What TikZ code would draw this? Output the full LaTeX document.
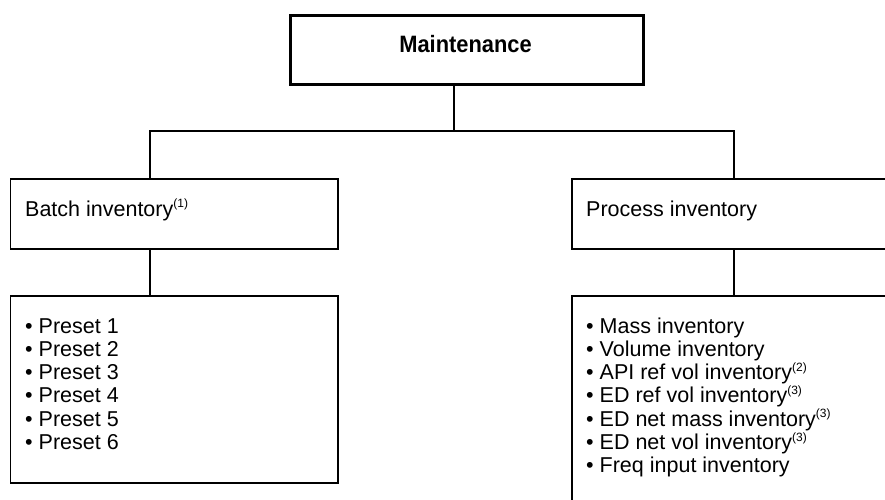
\documentclass[tikz,border=0pt]{standalone}
\usepackage{fontspec}
\setmainfont{Liberation Sans}
\newcommand\supnote[1]{\raisebox{8.5pt}{\fontsize{12}{12}\selectfont #1}}
\begin{document}
\begin{tikzpicture}[x=1pt,y=-1pt,
  boxthin/.style={draw, line width=1.6pt, inner sep=0pt, anchor=north west},
  boxthick/.style={draw, line width=3pt, inner sep=0pt, anchor=north west},
  conn/.style={line width=1.6pt},
  txt/.style={inner sep=0pt, anchor=base west, font=\fontsize{21.5}{23.3}\selectfont},
  titletxt/.style={inner sep=0pt, anchor=base, font=\bfseries\fontsize{23}{25}\selectfont}]
\useasboundingbox (0,0) rectangle (885,499);
\clip (0,0) rectangle (885,499);
% boxes
\node[boxthick, minimum width=353pt, minimum height=69pt] (main) at (289,14) {};
\node[boxthin, minimum width=327.5pt, minimum height=70pt] (batch) at (9.5,178) {};
\node[boxthin, minimum width=327.5pt, minimum height=187pt] (presets) at (9.5,295) {};
\node[boxthin, minimum width=340pt, minimum height=70pt] (proc) at (571,178) {};
\node[boxthin, minimum width=340pt, minimum height=240pt] (plist) at (571,295) {};
% connector coordinates
\coordinate (junc) at (454,131);
\coordinate (cl) at (150,131);
\coordinate (cr) at (734,131);
\draw[conn] (junc |- main.south) -- (junc);
\draw[conn] (cl |- batch.north) -- (cl) -- (cr) -- (cr |- proc.north);
\draw[conn] (cl |- batch.south) -- (cl |- presets.north);
\draw[conn] (cr |- proc.south) -- (cr |- plist.north);
% texts
\node[titletxt] (maintxt) at (465.5,52) {\scalebox{0.95}[1.03]{Maintenance}};
\node[txt] (batchtxt) at (25,216) {Batch inventory\supnote{(1)}};
\node[txt] (proctxt) at (586,216) {Process inventory};
\foreach \i in {1,...,6}{
  \node[txt] (preset\i) at (25,{333+(\i-1)*23.3}) {\textbullet\ Preset \i};
}
\node[txt] (pl1) at (586,333) {\textbullet\ Mass inventory};
\node[txt] (pl2) at (586,356.3) {\textbullet\ Volume inventory};
\node[txt] (pl3) at (586,379.6) {\textbullet\ API ref vol inventory\supnote{(2)}};
\node[txt] (pl4) at (586,402.9) {\textbullet\ ED ref vol inventory\supnote{(3)}};
\node[txt] (pl5) at (586,426.2) {\textbullet\ ED net mass inventory\supnote{(3)}};
\node[txt] (pl6) at (586,449.5) {\textbullet\ ED net vol inventory\supnote{(3)}};
\node[txt] (pl7) at (586,472.8) {\textbullet\ Freq input inventory};
\end{tikzpicture}
\end{document}
